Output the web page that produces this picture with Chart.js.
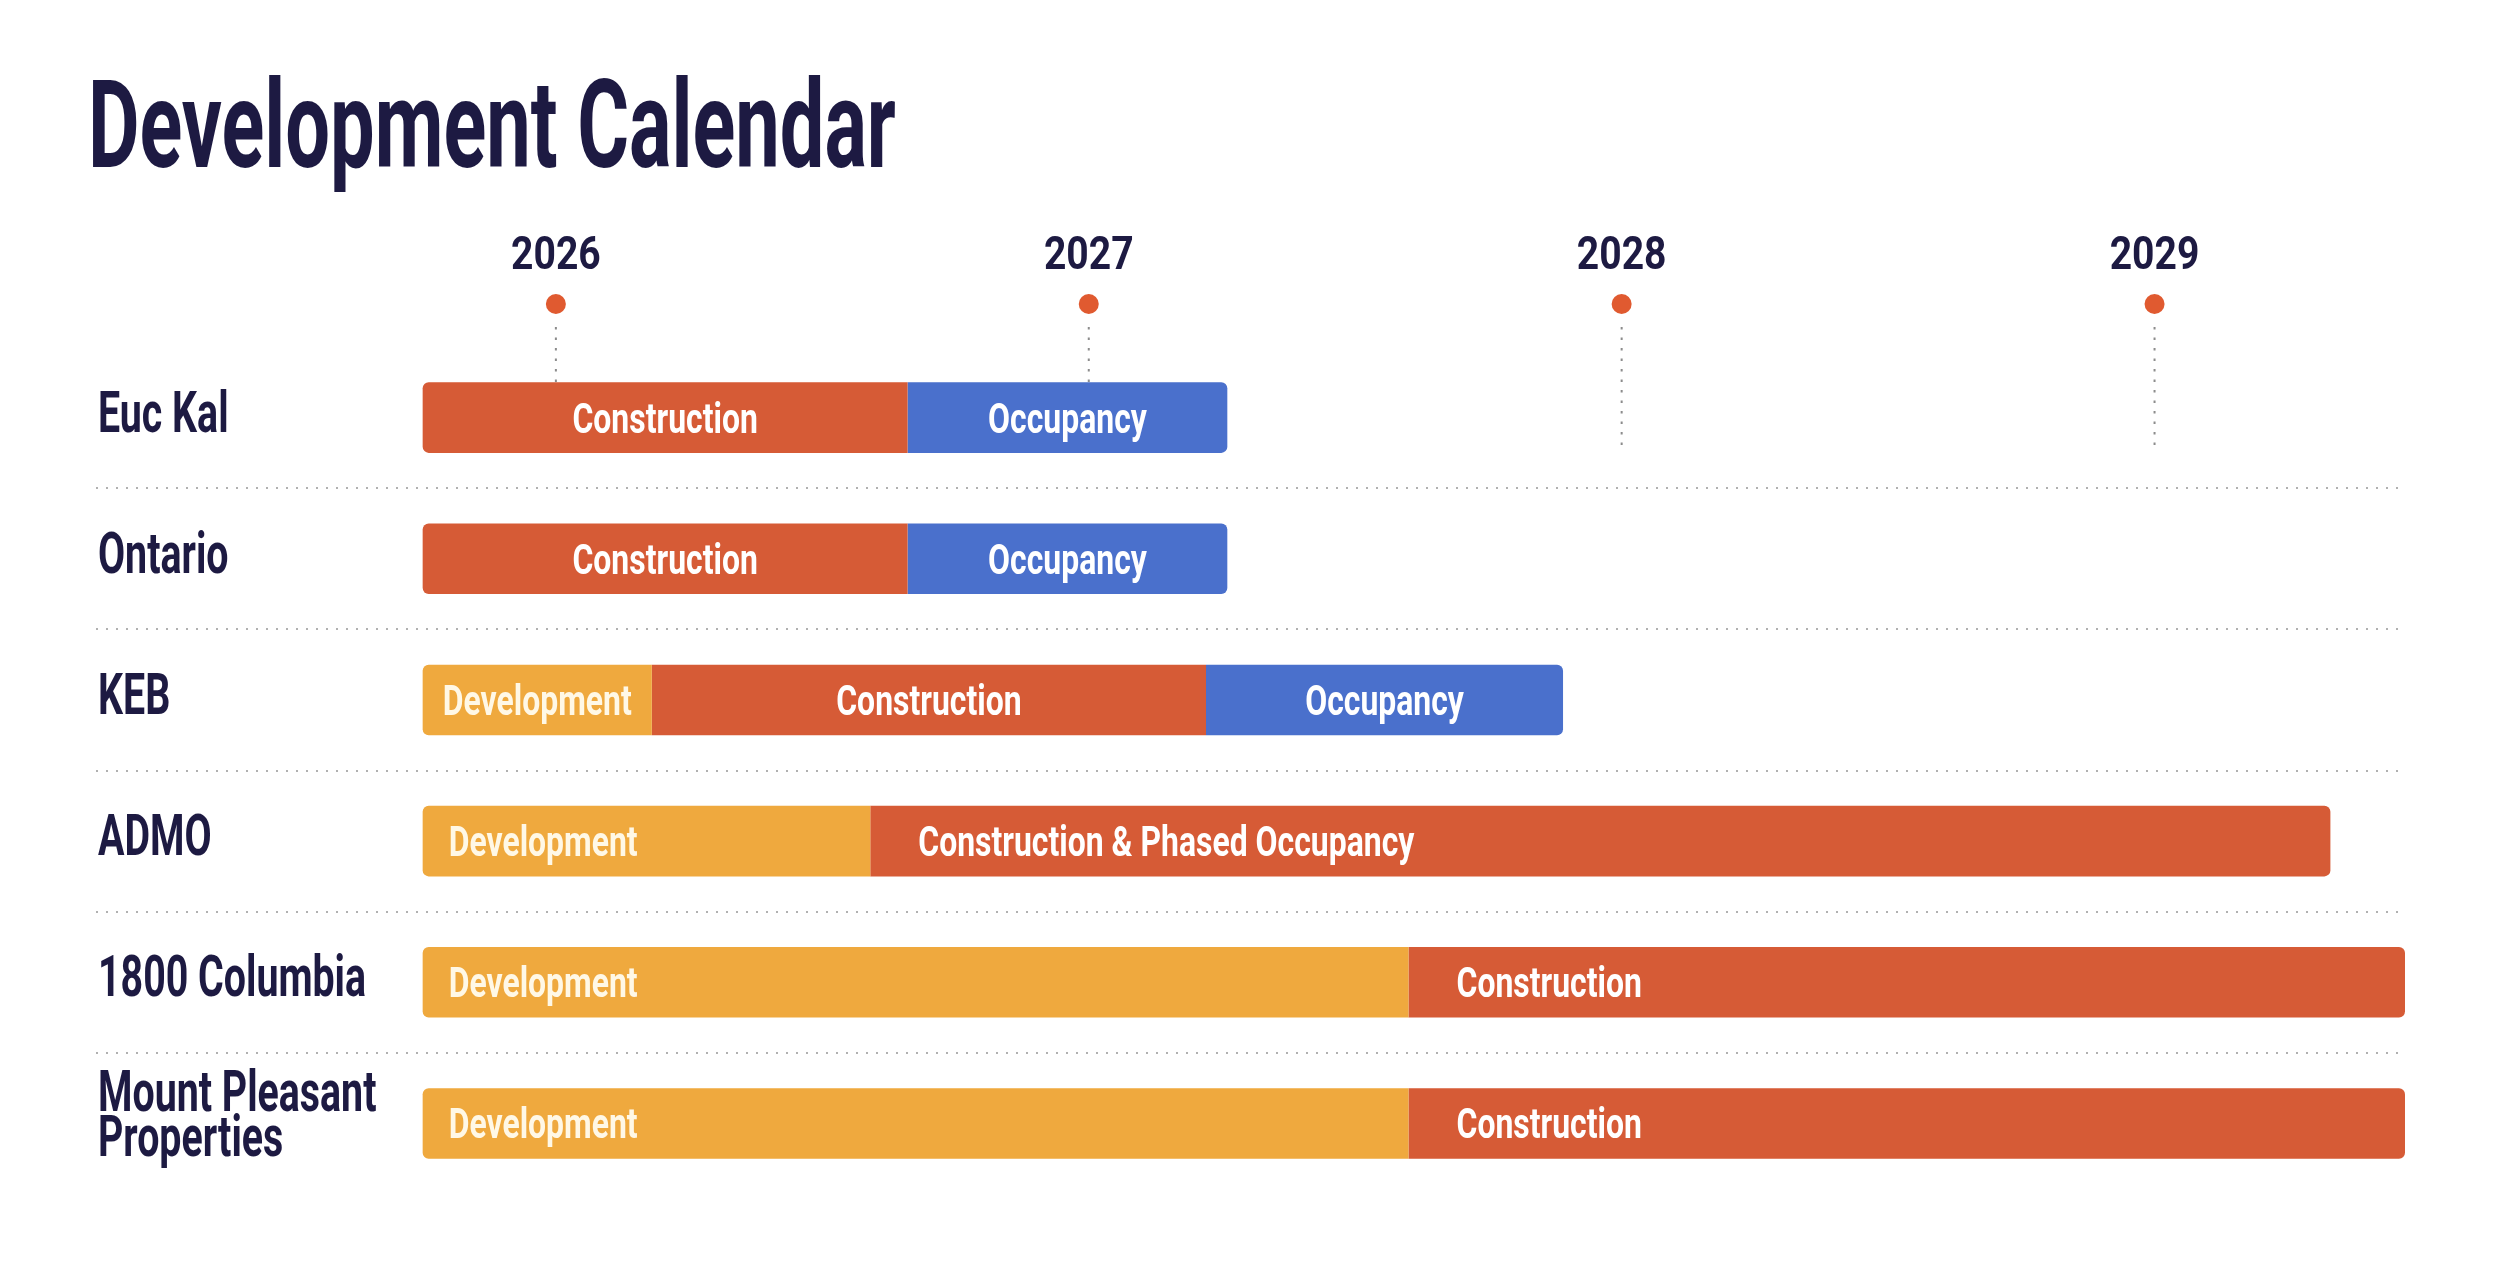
<!DOCTYPE html>
<html>
<head>
<meta charset="utf-8">
<title>Development Calendar</title>
<script src="https://cdn.jsdelivr.net/npm/chart.js@4.4.1/dist/chart.umd.min.js"></script>
<style>
  html, body { margin: 0; padding: 0; background: #ffffff; }
  canvas { display: block; }
</style>
</head>
<body>
<canvas id="calendar" width="2500" height="1266"></canvas>
<script>
// rows, top to bottom
const projects = ['Euc Kal', 'Ontario', 'KEB', 'ADMO', '1800 Columbia', ['Mount Pleasant', 'Properties']];
const yearTicks = [2026, 2027, 2028, 2029];

// phase spans in decimal years [start, end], null = phase not shown for that row
const developmentSpans = [null, null, [2025.75, 2026.18], [2025.75, 2026.59], [2025.75, 2027.60], [2025.75, 2027.60]];
const constructionSpans = [[2025.75, 2026.66], [2025.75, 2026.66], [2026.18, 2027.22], [2026.59, 2029.33], [2027.60, 2029.47], [2027.60, 2029.47]];
const occupancySpans = [[2026.66, 2027.26], [2026.66, 2027.26], [2027.22, 2027.89], null, null, null];
const constructionNames = ['Construction', 'Construction', 'Construction', 'Construction & Phased Occupancy', 'Construction', 'Construction'];

const chartTitle = 'Development Calendar';

const FONT = "Roboto, 'Liberation Sans', 'DejaVu Sans', sans-serif";
const NAVY = '#1d1a42';
const allSpans = [developmentSpans, constructionSpans, occupancySpans];

function rowStart(i) {
  let s = Infinity;
  allSpans.forEach(list => { if (list[i]) s = Math.min(s, list[i][0]); });
  return s;
}
function rowEnd(i) {
  let e = -Infinity;
  allSpans.forEach(list => { if (list[i]) e = Math.max(e, list[i][1]); });
  return e;
}

// round only the outer ends of each row's bar
function corners(ctx) {
  const span = ctx.raw;
  if (!span) return 0;
  const r = 6;
  const first = span[0] === rowStart(ctx.dataIndex) ? r : 0;
  const last = span[1] === rowEnd(ctx.dataIndex) ? r : 0;
  return { topLeft: first, bottomLeft: first, topRight: last, bottomRight: last };
}

// the original uses a tall condensed face, squeeze the text horizontally
function condensedText(ctx, text, x, y, sx, align) {
  ctx.save();
  ctx.translate(x, y);
  ctx.scale(sx, 1);
  ctx.textAlign = align;
  ctx.fillText(text, 0, 0);
  ctx.restore();
}

// dots on the year axis + dotted drop lines
const yearMarkers = {
  id: 'yearMarkers',
  beforeDatasetsDraw(chart) {
    const { ctx, chartArea, scales: { x, y } } = chart;
    const dotY = chartArea.top - 43;
    const lineEnd = y.getPixelForValue(0) + 30;
    ctx.save();
    yearTicks.forEach(v => {
      const px = x.getPixelForValue(v);
      ctx.strokeStyle = '#8c8c8c';
      ctx.lineWidth = 2;
      ctx.setLineDash([2.5, 8]);
      ctx.beginPath();
      ctx.moveTo(px, dotY + 23);
      ctx.lineTo(px, lineEnd);
      ctx.stroke();
      ctx.setLineDash([]);
      ctx.fillStyle = '#e05a30';
      ctx.beginPath();
      ctx.arc(px, dotY, 10, 0, Math.PI * 2);
      ctx.fill();
    });
    ctx.restore();
  }
};

// phase names written inside the bars
const phaseLabels = {
  id: 'phaseLabels',
  afterDatasetsDraw(chart) {
    const { ctx, chartArea, scales: { x } } = chart;
    ctx.save();
    ctx.font = 'bold 42px ' + FONT;
    ctx.textBaseline = 'alphabetic';
    chart.data.datasets.forEach((ds, di) => {
      const meta = chart.getDatasetMeta(di);
      meta.data.forEach((bar, i) => {
        if (!ds.data[i]) return;
        const text = ds.names ? ds.names[i] : ds.label;
        const left = Math.min(bar.x, bar.base);
        const right = Math.max(bar.x, bar.base);
        const rowWidth = x.getPixelForValue(rowEnd(i)) - x.getPixelForValue(rowStart(i));
        ctx.fillStyle = ds.textColor;
        if (rowWidth > chartArea.width / 2) {
          // long rows: names sit at the left of each piece
          const inset = ds.data[i][0] === rowStart(i) ? 26 : 48;
          condensedText(ctx, text, left + inset, bar.y + 15, 0.76, 'left');
        } else {
          condensedText(ctx, text, (left + right) / 2, bar.y + 15, 0.76, 'center');
        }
      });
    });
    ctx.restore();
  }
};

// title, year labels and project names
const axisText = {
  id: 'axisText',
  afterDraw(chart) {
    const { ctx, chartArea, scales: { x, y } } = chart;
    ctx.save();
    ctx.fillStyle = NAVY;
    ctx.textBaseline = 'alphabetic';

    ctx.font = 'bold 122px ' + FONT;
    condensedText(ctx, chartTitle, 88, 167, 0.65, 'left');

    ctx.font = 'bold 46px ' + FONT;
    x.ticks.forEach(t => {
      condensedText(ctx, String(t.value), x.getPixelForValue(t.value), chartArea.top - 78, 0.85, 'center');
    });

    ctx.font = 'bold 57px ' + FONT;
    y.ticks.forEach((t, i) => {
      const label = y.getLabelForValue(t.value);
      const lines = Array.isArray(label) ? label : [label];
      const cy = y.getPixelForTick(i);
      lines.forEach((line, k) => {
        condensedText(ctx, line, chartArea.left + 2, cy + 14 - (lines.length - 1) * 26 + k * 45, 0.69, 'left');
      });
    });
    ctx.restore();
  }
};

new Chart(document.getElementById('calendar'), {
  type: 'bar',
  data: {
    labels: projects,
    datasets: [
      { label: 'Development', data: developmentSpans, backgroundColor: '#efa93e', textColor: '#fff8e6' },
      { label: 'Construction', data: constructionSpans, names: constructionNames, backgroundColor: '#d65b36', textColor: '#ffffff' },
      { label: 'Occupancy', data: occupancySpans, backgroundColor: '#4a70cc', textColor: '#ffffff' }
    ]
  },
  options: {
    indexAxis: 'y',
    responsive: false,
    devicePixelRatio: 1,
    animation: false,
    layout: { padding: { left: 96, right: 95, top: 347, bottom: 72 } },
    datasets: {
      bar: {
        grouped: false,
        barPercentage: 0.5,
        categoryPercentage: 1,
        borderSkipped: false,
        borderRadius: corners
      }
    },
    plugins: {
      legend: { display: false },
      tooltip: { enabled: false },
      title: { display: false }
    },
    scales: {
      x: {
        type: 'linear',
        position: 'top',
        min: 2025.137,
        max: 2029.47,
        grid: { display: false, drawTicks: false },
        border: { display: false },
        afterBuildTicks: scale => { scale.ticks = yearTicks.map(v => ({ value: v })); },
        ticks: { display: false }
      },
      y: {
        type: 'category',
        grid: {
          offset: true,
          drawTicks: false,
          lineWidth: 2,
          color: ctx => (ctx.index === undefined || ctx.index === 0) ? 'rgba(0,0,0,0)' : '#b0b0b0'
        },
        border: { display: false, dash: [2, 8] },
        ticks: { display: false }
      }
    }
  },
  plugins: [yearMarkers, phaseLabels, axisText]
});
</script>
</body>
</html>
